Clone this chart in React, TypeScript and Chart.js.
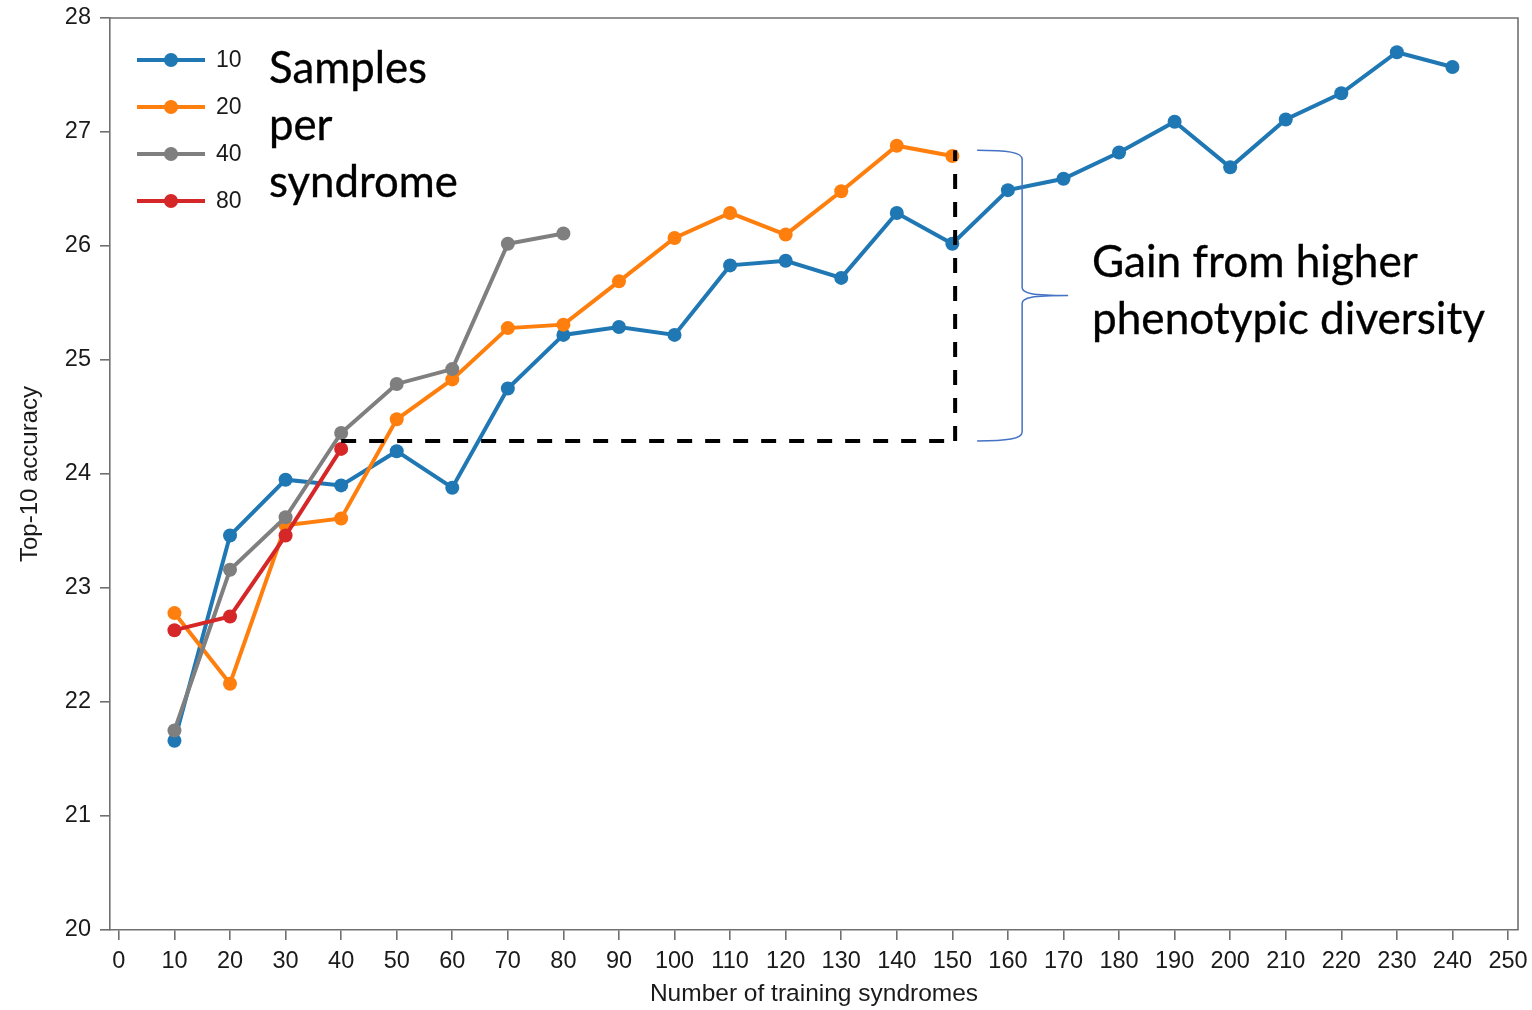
import React, { useEffect, useRef } from 'react';
import { Chart, registerables } from 'chart.js';

Chart.register(...registerables);

// ---- data ----
const seriesLabels = ['10', '20', '40', '80'];
const seriesColors = ['#1f77b4', '#ff7f0e', '#7f7f7f', '#d62728'];

const syndromes10 = [10, 20, 30, 40, 50, 60, 70, 80, 90, 100, 110, 120, 130, 140, 150, 160, 170, 180, 190, 200, 210, 220, 230, 240];
const accuracy10 = [21.66, 23.46, 23.95, 23.9, 24.2, 23.88, 24.75, 25.22, 25.29, 25.22, 25.83, 25.87, 25.72, 26.29, 26.02, 26.49, 26.59, 26.82, 27.09, 26.69, 27.11, 27.34, 27.7, 27.57];

const syndromes20 = [10, 20, 30, 40, 50, 60, 70, 80, 90, 100, 110, 120, 130, 140, 150];
const accuracy20 = [22.78, 22.16, 23.55, 23.61, 24.48, 24.83, 25.28, 25.31, 25.69, 26.07, 26.29, 26.1, 26.48, 26.88, 26.79];

const syndromes40 = [10, 20, 30, 40, 50, 60, 70, 80];
const accuracy40 = [21.75, 23.16, 23.62, 24.36, 24.79, 24.92, 26.02, 26.11];

const syndromes80 = [10, 20, 30, 40];
const accuracy80 = [22.63, 22.75, 23.46, 24.22];

const xTickValues = [0, 10, 20, 30, 40, 50, 60, 70, 80, 90, 100, 110, 120, 130, 140, 150, 160, 170, 180, 190, 200, 210, 220, 230, 240, 250];
const yTickValues = [20, 21, 22, 23, 24, 25, 26, 27, 28];

// annotation (gain) in data units
const gainLevel = 24.29;
const gainStartX = 40;
const gainEndX = 150.5;
const gainTop = 26.84;

const legendTitle = ['Samples', 'per', 'syndrome'];
const gainText = ['Gain from higher', 'phenotypic diversity'];

const TICK_FONT = "'Liberation Sans', Arial, sans-serif";
const NOTE_FONT = "Lato, 'Open Sans', sans-serif";

function drawFittedLines(ctx: CanvasRenderingContext2D, lines: string[], x: number, baselines: number[], refIndex: number, refWidth: number, size: number) {
  ctx.save();
  ctx.font = `${size}px ${NOTE_FONT}`;
  ctx.fillStyle = '#000';
  ctx.strokeStyle = '#000';
  ctx.lineWidth = 0.35;
  ctx.textAlign = 'left';
  ctx.textBaseline = 'alphabetic';
  const w = ctx.measureText(lines[refIndex]).width;
  const sx = refWidth / w;
  lines.forEach((t, i) => {
    ctx.save();
    ctx.translate(x, baselines[i]);
    ctx.scale(sx, 1);
    ctx.fillText(t, 0, 0);
    ctx.strokeText(t, 0, 0);
    ctx.restore();
  });
  ctx.restore();
}

const annotationPlugin = {
  id: 'annotations',
  beforeDatasetsDraw(chart: any) {
    const { ctx, chartArea } = chart;
    ctx.save();
    ctx.strokeStyle = '#707070';
    ctx.lineWidth = 1.6;
    ctx.beginPath();
    ctx.moveTo(chartArea.left, chartArea.top);
    ctx.lineTo(chartArea.right, chartArea.top);
    ctx.lineTo(chartArea.right, chartArea.bottom);
    ctx.stroke();
    ctx.restore();
  },
  afterDatasetsDraw(chart: any) {
    const { ctx } = chart;
    const xs = chart.scales.x;
    const ys = chart.scales.y;

    // dashed gain lines
    ctx.save();
    ctx.strokeStyle = '#000';
    ctx.lineWidth = 4;
    ctx.setLineDash([15, 13]);
    ctx.beginPath();
    ctx.moveTo(xs.getPixelForValue(gainStartX), ys.getPixelForValue(gainLevel));
    ctx.lineTo(xs.getPixelForValue(gainEndX), ys.getPixelForValue(gainLevel));
    ctx.stroke();
    ctx.beginPath();
    ctx.moveTo(xs.getPixelForValue(gainEndX), ys.getPixelForValue(gainLevel));
    ctx.lineTo(xs.getPixelForValue(gainEndX), ys.getPixelForValue(gainTop));
    ctx.stroke();
    ctx.restore();

    // curly brace
    const bx0 = xs.getPixelForValue(gainEndX) + 22;
    const bx1 = bx0 + 45;
    const bx2 = bx1 + 46;
    const yTop = ys.getPixelForValue(gainTop);
    const yBot = ys.getPixelForValue(gainLevel);
    const yMid = (yTop + yBot) / 2;
    ctx.save();
    ctx.strokeStyle = '#4472c4';
    ctx.lineWidth = 1.5;
    ctx.beginPath();
    ctx.moveTo(bx0, yTop);
    ctx.bezierCurveTo(bx0 + 30, yTop, bx1, yTop + 2, bx1, yTop + 9);
    ctx.lineTo(bx1, yMid - 8);
    ctx.bezierCurveTo(bx1, yMid - 2, bx1 + 10, yMid, bx2, yMid);
    ctx.bezierCurveTo(bx1 + 10, yMid, bx1, yMid + 2, bx1, yMid + 8);
    ctx.lineTo(bx1, yBot - 9);
    ctx.bezierCurveTo(bx1, yBot - 2, bx0 + 30, yBot, bx0, yBot);
    ctx.stroke();
    ctx.restore();

    // legend
    ctx.save();
    const legY = [60, 107, 154, 201];
    seriesLabels.forEach((lab, i) => {
      const y = legY[i];
      ctx.strokeStyle = seriesColors[i];
      ctx.fillStyle = seriesColors[i];
      ctx.lineWidth = 4;
      ctx.beginPath();
      ctx.moveTo(137, y);
      ctx.lineTo(205, y);
      ctx.stroke();
      ctx.beginPath();
      ctx.arc(171, y, 7, 0, Math.PI * 2);
      ctx.fill();
      ctx.fillStyle = '#1a1a1a';
      ctx.font = `23px ${TICK_FONT}`;
      ctx.textAlign = 'left';
      ctx.textBaseline = 'middle';
      ctx.fillText(lab, 216, y + 1);
    });
    ctx.restore();

    drawFittedLines(ctx, legendTitle, 269, [83, 140, 197], 0, 158, 44);
    drawFittedLines(ctx, gainText, 1092, [277, 334], 1, 393, 44);
  },
};

export default function App() {
  const ref = useRef<HTMLCanvasElement | null>(null);
  useEffect(() => {
    if (!ref.current) return;
    const mk = (xs: number[], ys: number[]) => xs.map((x, i) => ({ x, y: ys[i] }));
    const allX = [syndromes10, syndromes20, syndromes40, syndromes80];
    const allY = [accuracy10, accuracy20, accuracy40, accuracy80];
    const chart = new Chart(ref.current, {
      type: 'line',
      data: {
        datasets: seriesLabels.map((lab, i) => ({
          label: lab,
          data: mk(allX[i], allY[i]),
          borderColor: seriesColors[i],
          backgroundColor: seriesColors[i],
          pointBackgroundColor: seriesColors[i],
          pointBorderWidth: 0,
          pointRadius: 7,
          borderWidth: 4,
          tension: 0,
          fill: false,
          order: 4 - i,
          clip: false as any,
        })),
      },
      options: {
        animation: false,
        responsive: true,
        maintainAspectRatio: false,
        layout: { padding: { top: 18, right: 14, left: 0, bottom: 0 } },
        plugins: { legend: { display: false }, tooltip: { enabled: false } },
        scales: {
          x: {
            type: 'linear',
            min: -1.6,
            max: 251.8,
            afterBuildTicks: (s: any) => {
              s.ticks = xTickValues.map((v) => ({ value: v }));
            },
            afterFit: (s: any) => {
              s.height = 80;
              s.paddingLeft = 0;
              s.paddingRight = 0;
            },
            grid: { drawOnChartArea: false, drawTicks: true, tickLength: 10, color: '#707070', lineWidth: 1.6 },
            border: { display: true, color: '#707070', width: 1.6 },
            ticks: { color: '#1a1a1a', font: { family: TICK_FONT, size: 23.5 }, padding: 7, maxRotation: 0, autoSkip: false },
            title: { display: true, text: 'Number of training syndromes', color: '#1a1a1a', font: { family: TICK_FONT, size: 24.5 }, padding: { top: 0, bottom: 1 } },
          },
          y: {
            type: 'linear',
            min: 20,
            max: 28,
            afterBuildTicks: (s: any) => {
              s.ticks = yTickValues.map((v) => ({ value: v }));
            },
            afterFit: (s: any) => {
              s.width = 110;
              s.paddingTop = 0;
              s.paddingBottom = 0;
            },
            grid: { drawOnChartArea: false, drawTicks: true, tickLength: 10, color: '#707070', lineWidth: 1.6 },
            border: { display: true, color: '#707070', width: 1.6 },
            ticks: { color: '#1a1a1a', font: { family: TICK_FONT, size: 23.5 }, padding: 9 },
            title: { display: true, text: 'Top-10 accuracy', color: '#1a1a1a', font: { family: TICK_FONT, size: 24 }, padding: { top: 16, bottom: 0 } },
          },
        },
      },
      plugins: [annotationPlugin],
    });
    return () => chart.destroy();
  }, []);
  return (
    <div style={{ position: 'fixed', left: 0, top: 0, width: '1532px', height: '1010px', background: '#fff' }}>
      <canvas ref={ref} />
    </div>
  );
}
